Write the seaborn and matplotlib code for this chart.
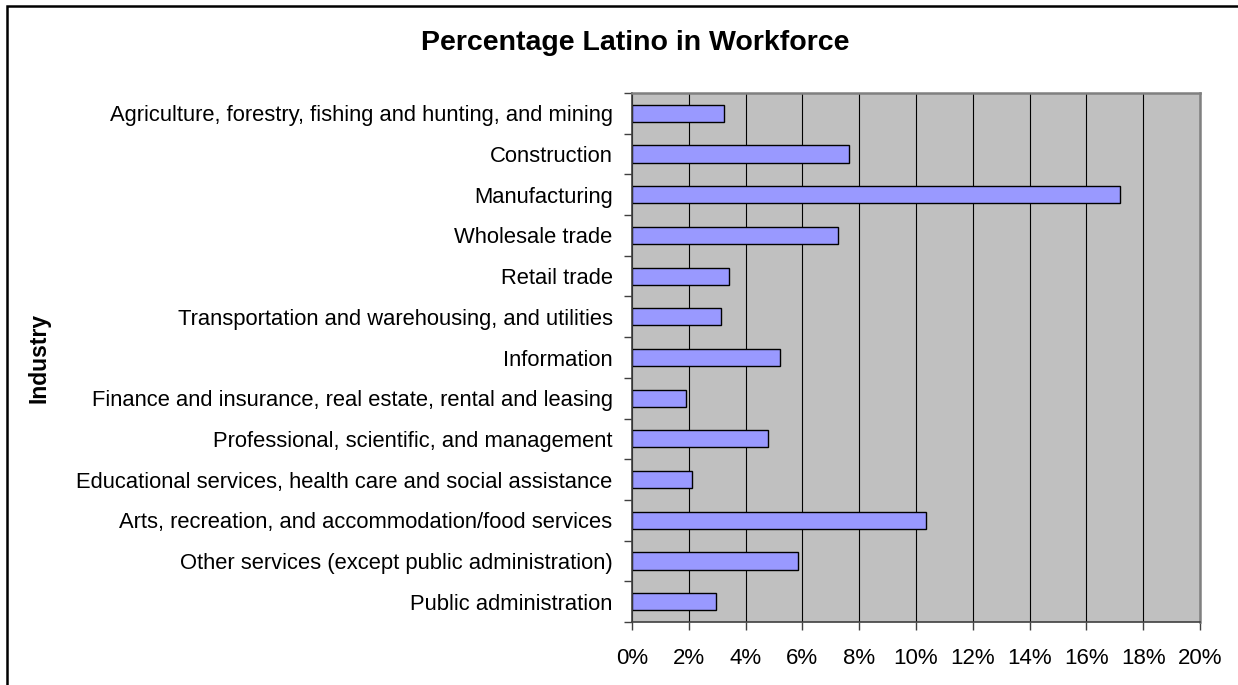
import matplotlib
matplotlib.use("Agg")
import matplotlib.pyplot as plt
import matplotlib.ticker as mticker
from matplotlib.patches import Rectangle
import seaborn as sns
import pandas as pd
import numpy as np

industries = [
    "Agriculture, forestry, fishing and hunting, and mining",
    "Construction",
    "Manufacturing",
    "Wholesale trade",
    "Retail trade",
    "Transportation and warehousing, and utilities",
    "Information",
    "Finance and insurance, real estate, rental and leasing",
    "Professional, scientific, and management",
    "Educational services, health care and social assistance",
    "Arts, recreation, and accommodation/food services",
    "Other services (except public administration)",
    "Public administration",
]
pct_latino = [3.25, 7.65, 17.2, 7.25, 3.4, 3.15, 5.2, 1.9, 4.8, 2.1, 10.35, 5.85, 2.95]
x_ticks = [0, 2, 4, 6, 8, 10, 12, 14, 16, 18, 20]

df = pd.DataFrame({"Industry": industries, "Percent": pct_latino})

sns.set_theme(style="white")
plt.rcParams["font.family"] = ["Liberation Sans", "DejaVu Sans"]

W, H = 1238, 685
fig = plt.figure(figsize=(W / 100, H / 100), dpi=100)
fig.patch.set_facecolor("white")

left, right, top, bottom = 632, 1200, 93, 622
ax = fig.add_axes([left / W, 1 - bottom / H, (right - left) / W, (bottom - top) / H])
ax.set_facecolor("#C0C0C0")

sns.barplot(data=df, x="Percent", y="Industry", orient="h", color="#9999FF",
            edgecolor="black", linewidth=1.0, width=0.42, saturation=1, ax=ax)

ax.set_xlim(0, 20)
ax.set_ylim(len(industries) - 0.5, -0.5)
ax.set_xticks(x_ticks)
ax.xaxis.set_major_formatter(mticker.FuncFormatter(lambda v, p: f"{v:.0f}%"))

# vertical gridlines behind the bars
ax.set_axisbelow(True)
ax.xaxis.grid(True, color="black", linewidth=0.8)
ax.yaxis.grid(False)

# category labels without tick marks; tick marks on category boundaries
ax.tick_params(axis="y", which="major", length=0, pad=14, labelsize=15.8, labelcolor="black")
ax.set_yticks(np.arange(-0.5, len(industries), 1.0), minor=True)
ax.tick_params(axis="y", which="minor", length=6, width=1, color="#404040", direction="out", left=True)
ax.tick_params(axis="x", which="major", length=6, width=1, color="#404040", direction="out",
               bottom=True, labelsize=16, labelcolor="black", pad=13)

for side in ("left", "bottom"):
    ax.spines[side].set_visible(True)
    ax.spines[side].set_color("#404040")
    ax.spines[side].set_linewidth(1.2)
for side in ("right", "top"):
    ax.spines[side].set_visible(True)
    ax.spines[side].set_color("#808080")
    ax.spines[side].set_linewidth(1.8)

ax.set_xlabel("")
ax.set_ylabel("Industry", fontsize=16.5, fontweight="bold", color="black")
ax.yaxis.set_label_coords((50 - left) / (right - left), 0.5)

fig.text(635 / W, 1 - 43 / H, "Percentage Latino in Workforce", ha="center", va="center",
         fontsize=20.5, fontweight="bold", color="black")

# outer chart frame
fig.patches.append(Rectangle((7 / W, -0.1), 1.2, 1 - 6 / H + 0.1, transform=fig.transFigure,
                             fill=False, edgecolor="black", linewidth=1.8, zorder=10))

fig.savefig("out.png", dpi=100, facecolor="white")
